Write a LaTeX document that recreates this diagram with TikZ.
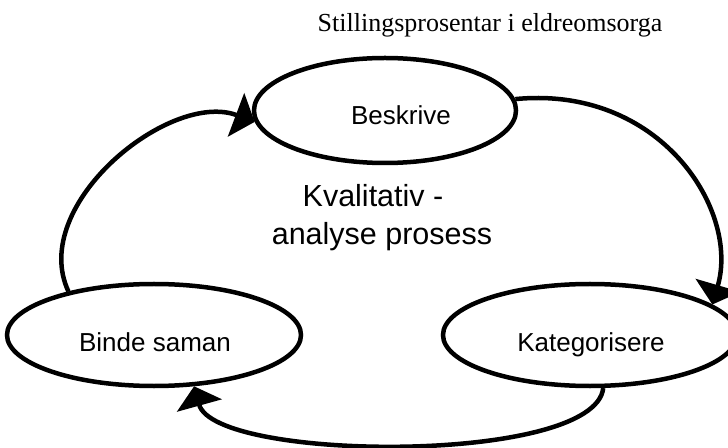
\documentclass[tikz,border=0pt]{standalone}
\usepackage{fontspec}
\setmainfont{Liberation Serif}
\newfontfamily\arialfont{Liberation Sans}
\usetikzlibrary{shapes.geometric,arrows.meta}

\tikzset{
  stage/.style={ellipse, draw=black, line width=4.5bp, inner sep=0pt},
  stagetext/.style={font=\arialfont\fontsize{26bp}{30bp}\selectfont, anchor=base, inner sep=0pt},
  centertext/.style={font=\arialfont\fontsize{30.5bp}{36bp}\selectfont, anchor=base, inner sep=0pt},
  flow/.style={line width=4.5bp, -{Triangle[length=20bp, width=46bp]}},
}

\begin{document}
\begin{tikzpicture}[x=1bp, y=-1bp]
  \useasboundingbox (0,0) rectangle (728,448);

  % title
  \node[font=\fontsize{26bp}{30bp}\selectfont, anchor=base, inner sep=0pt] (title) at (490,32) {Stillingsprosentar i eldreomsorga};

  % the three stages
  \node[stage, minimum width=262bp, minimum height=105bp] (besk) at (385,110.5) {};
  \node[stage, minimum width=294bp, minimum height=102bp] (bind) at (154,335) {};
  \node[stage, minimum width=294bp, minimum height=102bp] (kat)  at (590,335) {};

  \node[stagetext] (beskl) at (401,125) {Beskrive};
  \node[stagetext] (bindl) at (155,352) {Binde saman};
  \node[stagetext] (katl)  at (591,352) {Kategorisere};

  % centre caption
  \node[centertext] (cap1) at (373,207) {Kvalitativ -};
  \node[centertext] (cap2) at (382,245) {analyse prosess};

  % cycle arrows
  \draw[flow] (bind.153) .. controls (28,205) and (170,90) .. (besk.185);
  \draw[flow] (besk.5) .. controls (660,85) and (740,210) .. (kat.14);
  \draw[flow] (kat.-76) .. controls (595,465) and (215,462) .. (bind.-52);
\end{tikzpicture}
\end{document}
